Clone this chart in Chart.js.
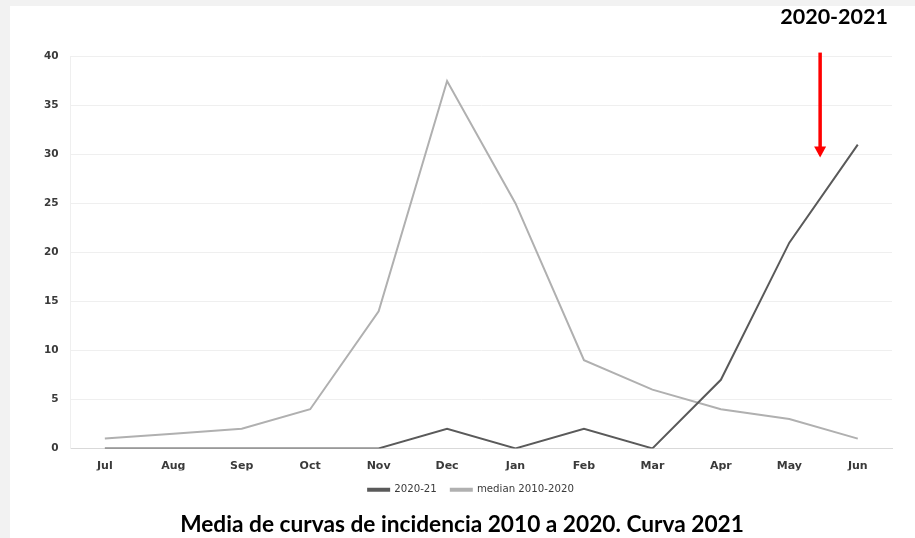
<!DOCTYPE html>
<html>
<head>
<meta charset="utf-8">
<script src="https://cdn.jsdelivr.net/npm/chart.js@4"></script>
<style>
  html, body { margin: 0; padding: 0; background: #f2f2f2; }
  #wrap { position: absolute; left: 10px; top: 6px; width: 905px; height: 532px; background: #ffffff; }
  canvas { display: block; }
</style>
</head>
<body>
<div id="wrap"><canvas id="c" width="905" height="532"></canvas></div>
<script>
// Monthly incidence, July to June
const months = ['Jul', 'Aug', 'Sep', 'Oct', 'Nov', 'Dec', 'Jan', 'Feb', 'Mar', 'Apr', 'May', 'Jun'];
const season2020_21 = [0, 0, 0, 0, 0, 2, 0, 2, 0, 7, 21, 31];
const median2010_2020 = [1, 1.5, 2, 4, 14, 37.5, 25, 9, 6, 4, 3, 1];
const yTicks = [0, 5, 10, 15, 20, 25, 30, 35, 40];

const seriesNames = ['2020-21', 'median 2010-2020'];
const headline = '2020-2021';
const caption = 'Media de curvas de incidencia 2010 a 2020. Curva 2021';

// Red arrow pointing down at the current season's curve (category index, from value, to value)
const arrowAt = { index: 10.45, from: 40.4, to: 29.7 };

const arrowPlugin = {
  id: 'arrow',
  afterDatasetsDraw(chart) {
    const { ctx, scales } = chart;
    const x0 = scales.x.getPixelForValue(0);
    const x = x0 + (scales.x.getPixelForValue(1) - x0) * arrowAt.index;
    const y0 = scales.y.getPixelForValue(arrowAt.from);
    const y1 = scales.y.getPixelForValue(arrowAt.to);
    ctx.save();
    ctx.strokeStyle = '#ff0000';
    ctx.fillStyle = '#ff0000';
    ctx.lineWidth = 3.5;
    ctx.beginPath();
    ctx.moveTo(x, y0);
    ctx.lineTo(x, y1 - 10);
    ctx.stroke();
    ctx.beginPath();
    ctx.moveTo(x - 6, y1 - 11);
    ctx.lineTo(x + 6, y1 - 11);
    ctx.lineTo(x, y1);
    ctx.closePath();
    ctx.fill();
    ctx.restore();
  }
};

// Nudge the legend row right to sit under the plot's centre, and the headline a touch left
const blockShift = {
  id: 'blockShift',
  afterLayout(chart) {
    if (chart.legend) {
      chart.legend.left += 9;
      chart.legend.right += 9;
    }
    if (chart.titleBlock) {
      chart.titleBlock.left -= 4;
      chart.titleBlock.right -= 4;
    }
  }
};

const yTickFont = { family: 'DejaVu Sans', size: 10.5, weight: 'bold' };
const xTickFont = { family: 'DejaVu Sans', size: 11, weight: 'bold' };

new Chart(document.getElementById('c'), {
  type: 'line',
  data: {
    labels: months,
    datasets: [
      {
        label: seriesNames[0],
        data: season2020_21,
        borderColor: '#5a5a5a',
        backgroundColor: '#5a5a5a',
        borderWidth: 2,
        pointRadius: 0,
        tension: 0
      },
      {
        label: seriesNames[1],
        data: median2010_2020,
        borderColor: '#b0b0b0',
        backgroundColor: '#b0b0b0',
        borderWidth: 2,
        pointRadius: 0,
        tension: 0
      }
    ]
  },
  options: {
    responsive: false,
    animation: false,
    layout: { padding: { left: 22, right: 23, top: 0, bottom: 1.5 } },
    scales: {
      x: {
        offset: true,
        grid: { display: false, drawTicks: false },
        border: { display: true, color: '#d9d9d9', width: 1 },
        ticks: {
          color: '#3a3a3a',
          font: xTickFont,
          padding: 11,
          maxRotation: 0
        },
        afterFit(scale) { scale.height -= 13; }
      },
      y: {
        min: 0,
        max: 40,
        afterBuildTicks(scale) { scale.ticks = yTicks.map(v => ({ value: v })); },
        grid: { color: '#efefef', drawTicks: false },
        border: { display: true, color: '#efefef' },
        ticks: {
          color: '#3a3a3a',
          font: yTickFont,
          padding: 12
        }
      }
    },
    plugins: {
      legend: {
        position: 'bottom',
        labels: {
          boxWidth: 21,
          boxHeight: 2,
          padding: 14,
          color: '#3a3a3a',
          font: { family: 'DejaVu Sans', size: 10.2 }
        }
      },
      title: {
        display: true,
        text: headline,
        align: 'end',
        color: '#000000',
        font: { family: 'Lato', size: 21.5, weight: 'bold', lineHeight: 1 },
        padding: { top: 0, bottom: 29 }
      },
      subtitle: {
        display: true,
        position: 'bottom',
        text: caption,
        color: '#000000',
        font: { family: 'Lato', size: 22.7, weight: 'bold', lineHeight: 1 },
        padding: { top: 9, bottom: 0 }
      },
      tooltip: { enabled: false }
    }
  },
  plugins: [arrowPlugin, blockShift]
});
</script>
</body>
</html>
